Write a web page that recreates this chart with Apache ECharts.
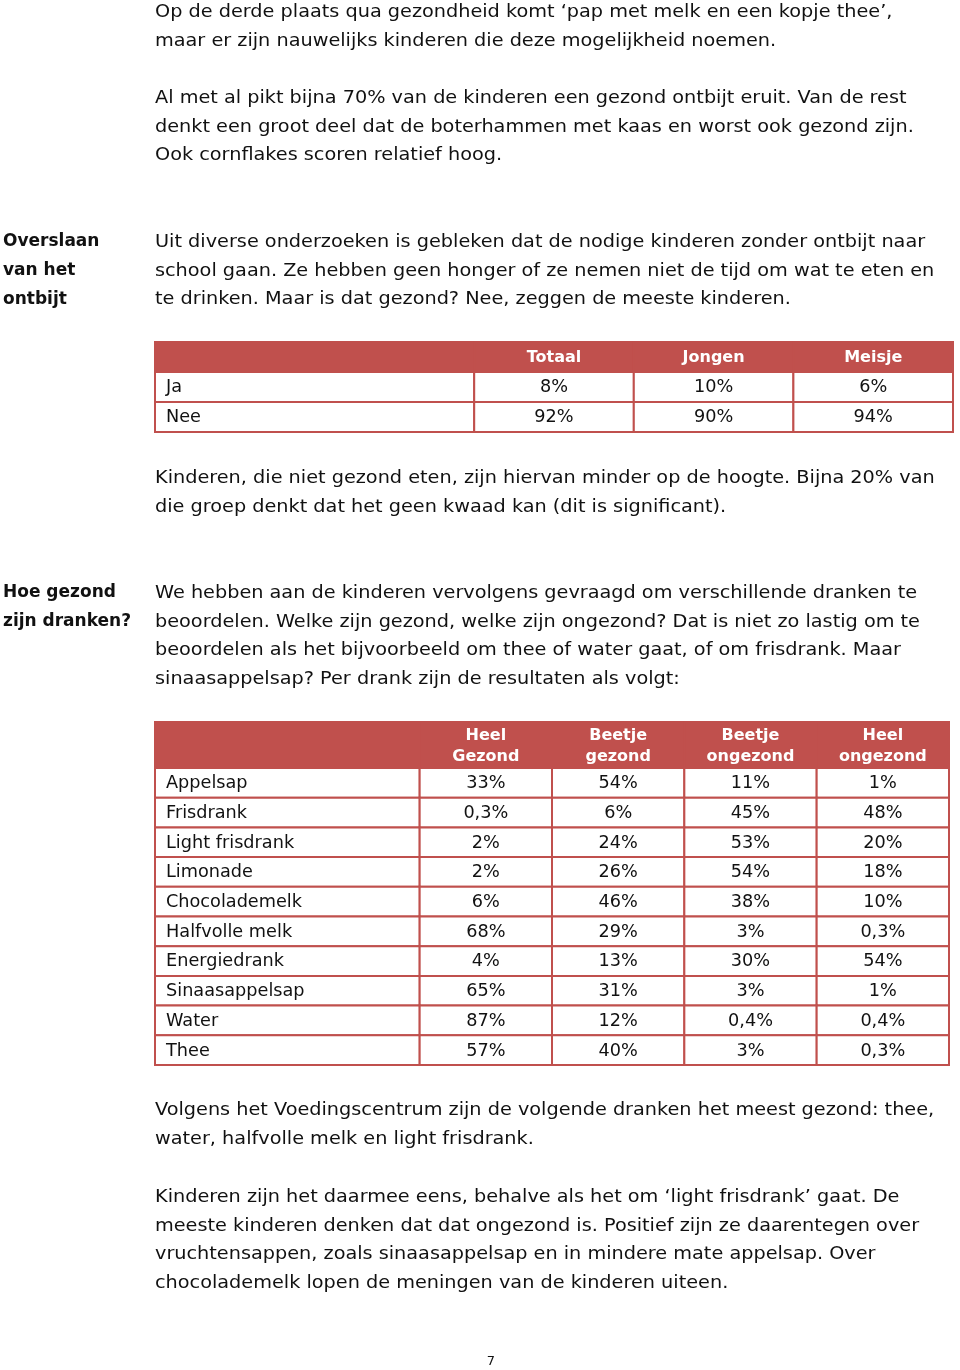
<!DOCTYPE html>
<html>
<head>
<meta charset="utf-8">
<script src="https://cdn.jsdelivr.net/npm/echarts@6/dist/echarts.min.js"></script>
<style>
  html, body { margin: 0; padding: 0; background: #fff; }
  #main { width: 960px; height: 1370px; }
</style>
</head>
<body>
<div id="main"></div>
<script>
// --- text of the page ---
var para1 = ['Op de derde plaats qua gezondheid komt \u2018pap met melk en een kopje thee\u2019,',
             'maar er zijn nauwelijks kinderen die deze mogelijkheid noemen.'];
var para2 = ['Al met al pikt bijna 70% van de kinderen een gezond ontbijt eruit. Van de rest',
             'denkt een groot deel dat de boterhammen met kaas en worst ook gezond zijn.',
             'Ook cornflakes scoren relatief hoog.'];
var head1 = ['Overslaan', 'van het', 'ontbijt'];
var para3 = ['Uit diverse onderzoeken is gebleken dat de nodige kinderen zonder ontbijt naar',
             'school gaan. Ze hebben geen honger of ze nemen niet de tijd om wat te eten en',
             'te drinken. Maar is dat gezond? Nee, zeggen de meeste kinderen.'];
var para4 = ['Kinderen, die niet gezond eten, zijn hiervan minder op de hoogte. Bijna 20% van',
             'die groep denkt dat het geen kwaad kan (dit is significant).'];
var head2 = ['Hoe gezond', 'zijn dranken?'];
var para5 = ['We hebben aan de kinderen vervolgens gevraagd om verschillende dranken te',
             'beoordelen. Welke zijn gezond, welke zijn ongezond? Dat is niet zo lastig om te',
             'beoordelen als het bijvoorbeeld om thee of water gaat, of om frisdrank. Maar',
             'sinaasappelsap? Per drank zijn de resultaten als volgt:'];
var para6 = ['Volgens het Voedingscentrum zijn de volgende dranken het meest gezond: thee,',
             'water, halfvolle melk en light frisdrank.'];
var para7 = ['Kinderen zijn het daarmee eens, behalve als het om \u2018light frisdrank\u2019 gaat. De',
             'meeste kinderen denken dat dat ongezond is. Positief zijn ze daarentegen over',
             'vruchtensappen, zoals sinaasappelsap en in mindere mate appelsap. Over',
             'chocolademelk lopen de meningen van de kinderen uiteen.'];
var pageNumber = '7';

// --- table 1: ontbijt overslaan ---
var t1Cols = ['Totaal', 'Jongen', 'Meisje'];
var t1Rows = ['Ja', 'Nee'];
var t1Totaal = [8, 92];
var t1Jongen = [10, 90];
var t1Meisje = [6, 94];

// --- table 2: hoe gezond zijn dranken ---
var t2Cols = ['Heel\nGezond', 'Beetje\ngezond', 'Beetje\nongezond', 'Heel\nongezond'];
var t2Rows = ['Appelsap', 'Frisdrank', 'Light frisdrank', 'Limonade', 'Chocolademelk',
              'Halfvolle melk', 'Energiedrank', 'Sinaasappelsap', 'Water', 'Thee'];
var heelGezond     = [33, 0.3, 2, 2, 6, 68, 4, 65, 87, 57];
var beetjeGezond   = [54, 6, 24, 26, 46, 29, 13, 31, 12, 40];
var beetjeOngezond = [11, 45, 53, 54, 38, 3, 30, 3, 0.4, 3];
var heelOngezond   = [1, 48, 20, 18, 10, 0.3, 54, 1, 0.4, 0.3];

var FONT = '"DejaVu Sans", sans-serif';
var RED = '#C0504D';
var TXT = '#111';

function pct(v) {
  return String(v).replace('.', ',') + '%';
}

// build cells: [col, row] ; col -1 = label column, row -1 = header row
function buildCells(cols, rows, columns) {
  var cells = [], texts = [];
  cells.push([-1, -1]); texts.push('');
  for (var c = 0; c < cols.length; c++) {
    cells.push([c, -1]); texts.push(cols[c]);
  }
  for (var r = 0; r < rows.length; r++) {
    cells.push([-1, r]); texts.push(rows[r]);
    for (var c = 0; c < columns.length; c++) {
      cells.push([c, r]); texts.push(pct(columns[c][r]));
    }
  }
  return {cells: cells, texts: texts};
}

function tableSeries(idx, tbl, headTop) {
  return {
    type: 'custom',
    xAxisIndex: idx,
    yAxisIndex: idx,
    data: tbl.cells,
    silent: true,
    renderItem: function (params, api) {
      var col = api.value(0), row = api.value(1);
      var x0 = col < 0 ? -2 : col, x1 = col < 0 ? 0 : col + 1;
      var y0 = row < 0 ? headTop : row, y1 = row < 0 ? 0 : row + 1;
      var p0 = api.coord([x0, y0]), p1 = api.coord([x1, y1]);
      var head = row < 0;
      var txt = tbl.texts[params.dataIndex];
      return {
        type: 'group',
        children: [{
          type: 'rect',
          shape: {x: p0[0], y: p0[1], width: p1[0] - p0[0], height: p1[1] - p0[1]},
          style: {fill: head ? RED : '#fff', stroke: RED, lineWidth: 2}
        }, {
          type: 'text',
          x: col < 0 ? p0[0] + 11 : (p0[0] + p1[0]) / 2,
          y: (p0[1] + p1[1]) / 2 + 1,
          scaleX: head ? 1 : 1.04,
          style: {
            text: txt,
            fill: head ? '#fff' : TXT,
            font: (head ? 'bold 16px ' : '17px ') + FONT,
            lineHeight: 21,
            align: col < 0 ? 'left' : 'center',
            verticalAlign: 'middle'
          }
        }]
      };
    }
  };
}

function textLines(lines, x, y0, bold) {
  var out = [];
  for (var i = 0; i < lines.length; i++) {
    out.push({
      type: 'text',
      x: x,
      y: y0 + 2 + i * 28.9,
      scaleX: bold ? 1 : 1.07,
      style: {
        text: lines[i],
        fill: TXT,
        font: (bold ? 'bold 17px ' : '18px ') + FONT,
        verticalAlign: 'middle'
      }
    });
  }
  return out;
}

var tbl1 = buildCells(t1Cols, t1Rows, [t1Totaal, t1Jongen, t1Meisje]);
var tbl2 = buildCells(t2Cols, t2Rows, [heelGezond, beetjeGezond, beetjeOngezond, heelOngezond]);

var graphics = [].concat(
  textLines(para1, 155, 10),
  textLines(para2, 155, 96),
  textLines(head1, 3, 240, true),
  textLines(para3, 155, 240),
  textLines(para4, 155, 476),
  textLines(head2, 3, 591, true),
  textLines(para5, 155, 591),
  textLines(para6, 155, 1108),
  textLines(para7, 155, 1195)
);
graphics.push({
  type: 'text', x: 491, y: 1362,
  style: {text: pageNumber, fill: TXT, font: '13px ' + FONT, align: 'center', verticalAlign: 'middle'}
});

var myChart = echarts.init(document.getElementById('main'));
var option = {
  animation: false,
  backgroundColor: '#fff',
  grid: [
    {left: 155, top: 342, width: 798, height: 90},
    {left: 155, top: 722, width: 794, height: 343}
  ],
  xAxis: [
    {type: 'value', gridIndex: 0, min: -2, max: t1Cols.length, show: false},
    {type: 'value', gridIndex: 1, min: -2, max: t2Cols.length, show: false}
  ],
  yAxis: [
    {type: 'value', gridIndex: 0, min: -1, max: t1Rows.length, inverse: true, show: false},
    {type: 'value', gridIndex: 1, min: -1.55, max: t2Rows.length, inverse: true, show: false}
  ],
  series: [
    tableSeries(0, tbl1, -1),
    tableSeries(1, tbl2, -1.55)
  ],
  graphic: graphics
};
myChart.setOption(option);
</script>
</body>
</html>
